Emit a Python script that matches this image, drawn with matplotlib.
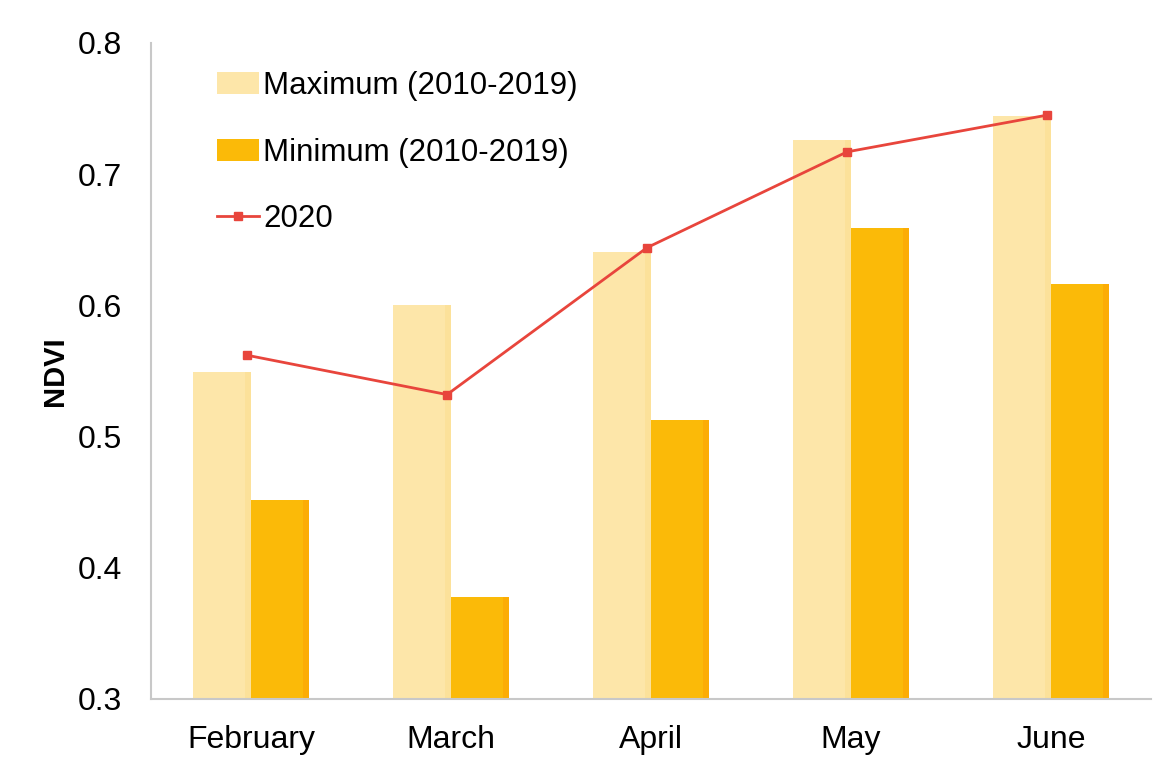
import matplotlib.pyplot as plt
import numpy as np

plt.rcParams['font.family'] = ['Liberation Sans', 'DejaVu Sans']

# Data
months = ['February', 'March', 'April', 'May', 'June']
ndvi_max = [0.549, 0.600, 0.641, 0.726, 0.744]
ndvi_min = [0.452, 0.378, 0.513, 0.659, 0.616]
ndvi_2020 = [0.562, 0.532, 0.644, 0.717, 0.745]

fig = plt.figure(figsize=(11.58, 7.66), dpi=100)
ax = fig.add_axes([0.1304, 0.0875, 0.8636, 0.8564])

x = np.arange(len(months))
w = 0.29

ax.bar(x - w / 2, ndvi_max, w, color='#FDE6A9', edgecolor='none',
       label='Maximum (2010-2019)')
ax.bar(x + w / 2, ndvi_min, w, color='#FBBA08', edgecolor='none',
       label='Minimum (2010-2019)')
# darker rims on the bars, like the original's gradient fill
ax.bar(x - w / 2 + w * 0.45, ndvi_max, w * 0.1, color='#FCD980', alpha=0.35, edgecolor='none')
ax.bar(x + w / 2 + w * 0.45, ndvi_min, w * 0.1, color='#FF9900', alpha=0.4, edgecolor='none')

ax.plot(x - 0.02, ndvi_2020, color='#E8453C', lw=2, marker='s', ms=6,
        label='2020')

ax.set_ylim(0.3, 0.8)
ax.set_xlim(-0.5, len(months) - 0.5)
ax.set_yticks([0.3, 0.4, 0.5, 0.6, 0.7, 0.8])
ax.set_yticklabels(['0.3', '0.4', '0.5', '0.6', '0.7', '0.8'])
ax.set_xticks(x)
ax.set_xticklabels(months)
ax.tick_params(axis='both', length=0, labelsize=23, colors='black')
ax.tick_params(axis='y', pad=21)
ax.tick_params(axis='x', pad=19)
ax.set_ylabel('NDVI', fontsize=21, fontweight='bold', labelpad=6)

for s in ['top', 'right']:
    ax.spines[s].set_visible(False)
ax.spines['left'].set_color('#C8C8C8')
ax.spines['bottom'].set_color('#C8C8C8')
ax.spines['left'].set_linewidth(1.5)
ax.spines['bottom'].set_linewidth(1.5)

handles, labels = ax.get_legend_handles_labels()
order = [labels.index('Maximum (2010-2019)'), labels.index('Minimum (2010-2019)'),
         labels.index('2020')]
ax.legend([handles[i] for i in order], [labels[i] for i in order],
          loc='upper left', bbox_to_anchor=(0.038, 1.0), frameon=False,
          fontsize=22.5, handlelength=1.35, handletextpad=0.12,
          labelspacing=1.17)

plt.savefig('out.png', dpi=100)
